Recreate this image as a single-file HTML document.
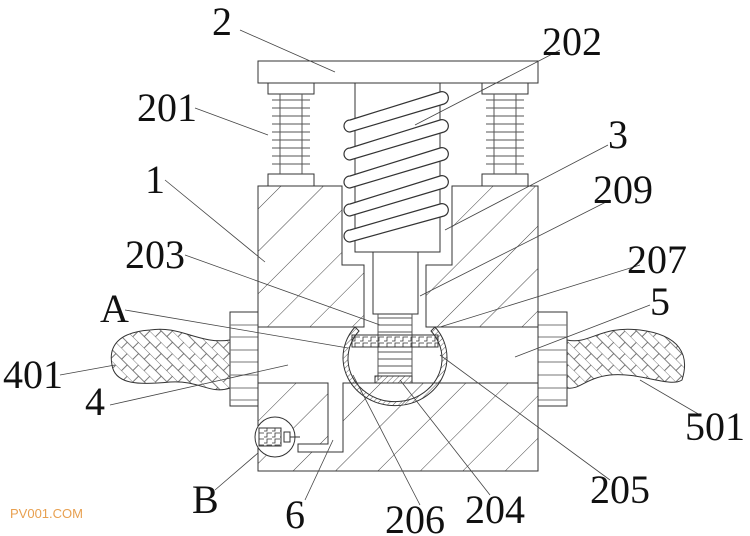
<!DOCTYPE html>
<html><head><meta charset="utf-8"><style>
html,body{margin:0;padding:0;background:#fff}
svg{display:block}
text{font-family:"Liberation Serif",serif;font-size:40px;fill:#111}
</style></head><body>
<svg width="750" height="536" viewBox="0 0 750 536" xmlns="http://www.w3.org/2000/svg">
<defs>
<pattern id="h" patternUnits="userSpaceOnUse" width="30" height="30" patternTransform="rotate(45)">
<line x1="0" y1="0" x2="0" y2="30" stroke="#444" stroke-width="1"/>
</pattern>
<pattern id="br" patternUnits="userSpaceOnUse" width="16" height="16" patternTransform="rotate(45)">
<path d="M0 0H16M0 8H16M4 0V8M12 8V16" stroke="#555" stroke-width="0.8" fill="none"/>
</pattern>
<pattern id="z" patternUnits="userSpaceOnUse" width="8" height="6">
<path d="M0 5H3V1H8" stroke="#333" stroke-width="0.8" fill="none"/>
</pattern>
<pattern id="sh" patternUnits="userSpaceOnUse" width="4" height="4" patternTransform="rotate(45)">
<line x1="0" y1="0" x2="0" y2="4" stroke="#333" stroke-width="0.8"/>
</pattern>
</defs>
<g stroke="#333" stroke-width="1" fill="none">
<path d="M230 340 C200 345 180 325 150 330 C120 332 108 345 112 365 C115 385 140 385 170 382 C200 380 210 395 230 388 Z" fill="url(#br)"/>
<path d="M567 340 C590 345 600 325 640 330 C680 335 690 355 682 380 C670 388 640 372 610 375 C585 378 580 390 567 388 Z" fill="url(#br)"/>
<rect x="230" y="312" width="28" height="94" fill="#fff"/>
<rect x="538" y="312" width="29" height="94" fill="#fff"/>
<g stroke="#777">
<path d="M230 325H258M230 337H258M230 350H258M230 362H258M230 375H258M230 388H258M230 400H258"/>
<path d="M538 325H567M538 337H567M538 350H567M538 362H567M538 375H567M538 388H567M538 400H567"/>
</g>
<path d="M258 186H342V265H364V327H258Z" fill="url(#h)"/>
<path d="M452 186H538V327H426V265H452Z" fill="url(#h)"/>
<path d="M258 383H328V444H298V452H343V383H538V471H258Z" fill="url(#h)"/>
<path d="M258 186H342V265H364V327H258ZM452 186H538V327H426V265H452Z"/>
<path d="M258 383H328V444M343 383V452H298M258 383V471H538V383H343M258 327V383M538 327V383"/>
<rect x="258" y="61" width="280" height="22"/>
<rect x="268" y="83" width="46" height="11"/><rect x="268" y="174" width="46" height="12"/>
<rect x="482" y="83" width="46" height="11"/><rect x="482" y="174" width="46" height="12"/>
<g stroke="#555">
<path d="M280 94V174M302 94V174M494 94V174M516 94V174"/>
<path d="M272 100H310M272 108H310M272 116H310M272 124H310M272 132H310M272 140H310M272 148H310M272 156H310M272 164H310"/>
<path d="M486 100H524M486 108H524M486 116H524M486 124H524M486 132H524M486 140H524M486 148H524M486 156H524M486 164H524"/>
</g>
<rect x="355" y="83" width="85" height="169" fill="#fff"/>
<rect x="373" y="252" width="45" height="62" fill="#fff"/>
<g stroke-width="1.2" fill="#fff">
<path d="M350 120 L440 92 A6 6 0 0 1 444 104 L350 132 A6 6 0 0 1 350 120Z"/>
<path d="M350 148 L440 120 A6 6 0 0 1 444 132 L350 160 A6 6 0 0 1 350 148Z"/>
<path d="M350 176 L440 148 A6 6 0 0 1 444 160 L350 188 A6 6 0 0 1 350 176Z"/>
<path d="M350 204 L440 176 A6 6 0 0 1 444 188 L350 216 A6 6 0 0 1 350 204Z"/>
<path d="M350 230 L440 204 A6 6 0 0 1 444 216 L350 242 A6 6 0 0 1 350 230Z"/>
</g>
<path d="M378 314V380M412 314V380" stroke="#555"/>
<path d="M378 318H412M378 325H412M378 332H412M378 352H412M378 359H412M378 366H412M378 373H412" stroke="#555"/>
<path d="M355 327 A52 48 0 1 0 435 327 L431 331 A47 43 0 1 1 359 331 Z" fill="url(#sh)"/>
<rect x="352" y="335" width="86" height="12" fill="url(#z)"/>
<rect x="375" y="376" width="37" height="7" fill="url(#sh)"/>
<circle cx="275" cy="437" r="20" fill="#fff"/>
<rect x="259" y="428" width="22" height="18" fill="url(#z)"/>
<rect x="284" y="432" width="6" height="10"/>
<path d="M290 437H300"/>
<g stroke="#444" stroke-width="0.8">
<path d="M240 30L335 72M560 50L415 125M195 108L268 135M608 145L445 230M165 180L265 262M610 200L420 296M185 255L380 325M640 265L440 327M125 310L348 348M650 305L515 357M60 375L115 365M110 405L288 365M700 415L640 380M215 490L258 453M305 500L333 440M420 505L353 375M490 495L400 380M610 480L440 355"/>
</g>
</g>
<text x="212" y="35">2</text>
<text x="542" y="55" textLength="60" lengthAdjust="spacingAndGlyphs">202</text>
<text x="137" y="121" textLength="60" lengthAdjust="spacingAndGlyphs">201</text>
<text x="608" y="148">3</text>
<text x="145" y="193">1</text>
<text x="593" y="203" textLength="60" lengthAdjust="spacingAndGlyphs">209</text>
<text x="125" y="268" textLength="60" lengthAdjust="spacingAndGlyphs">203</text>
<text x="627" y="273" textLength="60" lengthAdjust="spacingAndGlyphs">207</text>
<text x="100" y="322">A</text>
<text x="650" y="315">5</text>
<text x="3" y="388" textLength="60" lengthAdjust="spacingAndGlyphs">401</text>
<text x="85" y="415">4</text>
<text x="685" y="440" textLength="60" lengthAdjust="spacingAndGlyphs">501</text>
<text x="192" y="513">B</text>
<text x="285" y="528">6</text>
<text x="385" y="533" textLength="60" lengthAdjust="spacingAndGlyphs">206</text>
<text x="465" y="523" textLength="60" lengthAdjust="spacingAndGlyphs">204</text>
<text x="590" y="503" textLength="60" lengthAdjust="spacingAndGlyphs">205</text>
<text x="10" y="518" style="font-family:'Liberation Sans',sans-serif;font-size:13px;fill:#e8a050">PV001.COM</text>
</svg>
</body></html>
